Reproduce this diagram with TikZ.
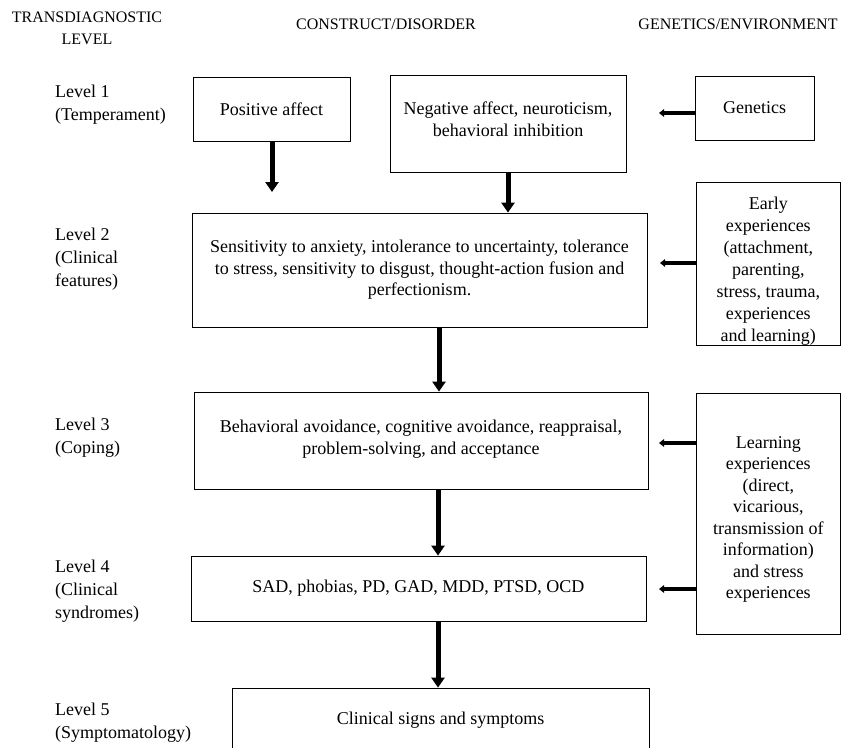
\documentclass[tikz,border=0pt]{standalone}
\usepackage{fontspec}
\setmainfont{Liberation Serif}
\usetikzlibrary{arrows.meta}
\begin{document}
\begin{tikzpicture}[x=1pt,y=-1pt,
  box/.style={draw, line width=0.8pt, align=center, inner sep=0pt, font=\fontsize{18}{21.5}\selectfont},
  sidebox/.style={box, font=\fontsize{18}{22}\selectfont},
  hdr/.style={font=\fontsize{16}{22}\selectfont, align=center, inner sep=0pt, anchor=north},
  lvl/.style={font=\fontsize{18}{23}\selectfont, align=left, inner sep=0pt, anchor=north west},
  varrow/.style={line width=5pt, -{Triangle[width=13pt,length=10pt]}},
  harrow/.style={line width=4pt, -{Triangle[width=7.5pt,length=5pt]}}]
\useasboundingbox (0,0) rectangle (842,747);
\clip (0,0) rectangle (842,747);

% headers
\node[hdr] (htl) at (87,11.7) {TRANSDIAGNOSTIC\\LEVEL};
\node[hdr] (hcd) at (386,19.2) {CONSTRUCT/DISORDER};
\node[hdr] (hge) at (738,19.2) {GENETICS/ENVIRONMENT};

% level labels
\node[lvl] (l1) at (55,84.7) {Level 1\\(Temperament)};
\node[lvl] (l2) at (55,227.7) {Level 2\\(Clinical\\features)};
\node[lvl] (l3) at (55,417.7) {Level 3\\(Coping)};
\node[lvl] (l4) at (55,559.7) {Level 4\\(Clinical\\syndromes)};
\node[lvl] (l5) at (55,702.7) {Level 5\\(Symptomatology)};

% construct boxes
\node[box, minimum width=157pt, minimum height=64pt] (pos) at (271.5,109) {Positive affect};
\node[box, minimum width=236pt, minimum height=97pt] (neg) at (508,123.5) {Negative affect, neuroticism,\\behavioral inhibition\\[-13pt]};
\node[box, minimum width=455pt, minimum height=114pt] (lv2) at (419.5,270) {Sensitivity to anxiety, intolerance to uncertainty, tolerance\\to stress, sensitivity to disgust, thought-action fusion and\\perfectionism.};
\node[box, minimum width=454pt, minimum height=97pt] (lv3) at (421,440.5) {Behavioral avoidance, cognitive avoidance, reappraisal,\\problem-solving, and acceptance\\[-14.5pt]};
\node[box, minimum width=455pt, minimum height=65pt] (lv4) at (418.5,588.5) {SAD, phobias, PD, GAD, MDD, PTSD, OCD};
\node[box, minimum width=417pt, minimum height=64pt] (clin) at (440.5,720) {Clinical signs and symptoms};

% genetics / environment boxes
\node[box, minimum width=119pt, minimum height=64pt] (gen) at (754.5,108) {Genetics};
\node[sidebox, minimum width=144.5pt, minimum height=162pt] (early) at (768.25,264) {\\[5pt]Early\\experiences\\(attachment,\\parenting,\\stress, trauma,\\experiences\\and learning)};
\node[box, minimum width=144.5pt, minimum height=241pt] (learn) at (768.25,513.5) {\\[2pt]Learning\\experiences\\(direct,\\vicarious,\\transmission of\\information)\\and stress\\experiences};

% free arrow ends
\coordinate (pa) at (272,192);
\coordinate (g1) at (659,113);
\coordinate (e1) at (660,263);
\coordinate (s3) at (659,443);
\coordinate (s4) at (659,589);
\coordinate (x23) at (439,0);
\coordinate (x34) at (438,0);
\coordinate (x45) at (438,0);

% vertical arrows
\draw[varrow] (pos.south -| pa) -- (pa);
\draw[varrow] (neg.south) -- (neg.south |- lv2.north);
\draw[varrow] (lv2.south -| x23) -- (lv3.north -| x23);
\draw[varrow] (lv3.south -| x34) -- (lv4.north -| x34);
\draw[varrow] (lv4.south -| x45) -- (clin.north -| x45);

% horizontal arrows
\draw[harrow] (gen.west |- g1) -- (g1);
\draw[harrow] (early.west |- e1) -- (e1);
\draw[harrow] (learn.west |- s3) -- (s3);
\draw[harrow] (learn.west |- s4) -- (s4);
\end{tikzpicture}
\end{document}
